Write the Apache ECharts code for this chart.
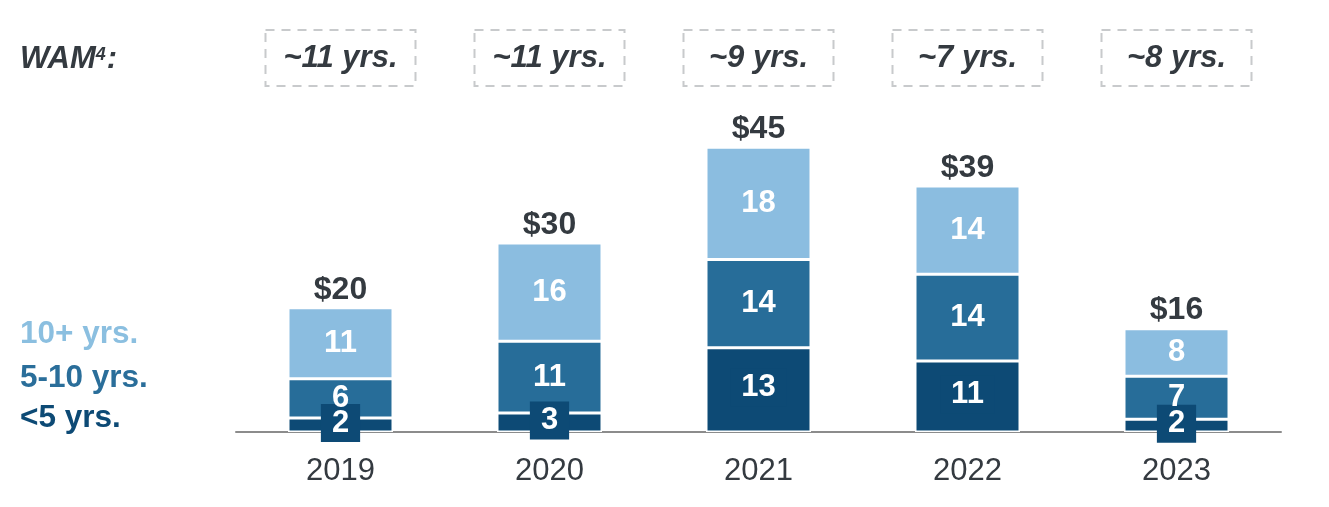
<!DOCTYPE html>
<html>
<head>
<meta charset="utf-8">
<script src="https://cdn.jsdelivr.net/npm/echarts@6/dist/echarts.min.js"></script>
<style>
  html, body { margin: 0; padding: 0; background: #fff; }
  #chart { width: 1329px; height: 507px; }
</style>
</head>
<body>
<div id="chart"></div>
<script>
var years = ['2019', '2020', '2021', '2022', '2023'];
var under5 = [2.2, 3.0, 13.3, 11.2, 2.0];
var fiveTo10 = [6.2, 11.3, 13.9, 13.7, 6.8];
var over10 = [11.2, 15.5, 17.7, 13.9, 7.5];
var totals = [20, 30, 45, 39, 16];
var wam = ['~11 yrs.', '~11 yrs.', '~9 yrs.', '~7 yrs.', '~8 yrs.'];

var FONT = '"Liberation Sans", Arial, sans-serif';
var DARK = '#0d4a75', MID = '#276d99', LIGHT = '#8bbde0', TXT = '#343a40';

// 基于准备好的dom，初始化echarts实例
var myChart = echarts.init(document.getElementById('chart'));

var segLabel = {
    show: true,
    position: 'inside',
    color: '#fff',
    fontFamily: FONT,
    fontWeight: 'bold',
    fontSize: 31,
    formatter: function (p) { return Math.round(p.value); }
};

var option = {
    animation: false,
    textStyle: { fontFamily: FONT },
    grid: { left: 236, right: 48, top: 115, bottom: 75 },
    xAxis: [{
        type: 'category',
        data: years,
        axisTick: { show: false },
        axisLine: { lineStyle: { color: '#8c8c8c', width: 2 } },
        axisLabel: { color: TXT, fontSize: 31, fontFamily: FONT, margin: 24 }
    }, {
        type: 'category',
        position: 'top',
        data: wam,
        axisTick: { show: false },
        axisLine: { show: false },
        axisLabel: {
            color: TXT,
            fontSize: 31,
            fontFamily: FONT,
            fontWeight: 'bold',
            fontStyle: 'italic',
            margin: 29,
            width: 150,
            lineHeight: 34,
            padding: [11, 0],
            borderColor: '#c8cacc',
            borderWidth: 2,
            borderType: [9, 7]
        }
    }],
    yAxis: { type: 'value', min: 0, max: 50, show: false, splitLine: { show: false } },
    series: [{
        name: '<5 yrs.',
        type: 'bar',
        stack: 'a',
        barWidth: 105,
        data: under5,
        itemStyle: { color: DARK, borderColor: '#fff', borderWidth: 1.5 },
        label: Object.assign({}, segLabel, {
            backgroundColor: DARK,
            padding: [4, 11],
            lineHeight: 30,
            offset: [0, -2]
        })
    }, {
        name: '5-10 yrs.',
        type: 'bar',
        stack: 'a',
        data: fiveTo10,
        itemStyle: { color: MID, borderColor: '#fff', borderWidth: 1.5 },
        label: segLabel
    }, {
        name: '10+ yrs.',
        type: 'bar',
        stack: 'a',
        data: over10,
        itemStyle: { color: LIGHT, borderColor: '#fff', borderWidth: 1.5 },
        label: segLabel
    }, {
        name: 'total',
        type: 'bar',
        stack: 'a',
        data: totals.map(function () { return 0; }),
        itemStyle: { color: 'transparent', borderWidth: 0 },
        label: {
            show: true,
            position: 'top',
            distance: 2,
            color: TXT,
            fontFamily: FONT,
            fontWeight: 'bold',
            fontSize: 32,
            formatter: function (p) { return '$' + totals[p.dataIndex]; }
        }
    }],
    graphic: [{
        type: 'text', left: 20, top: 44,
        style: {
            text: '{a|WAM}{s|4}{a|:}',
            rich: {
                a: { fontFamily: FONT, fontSize: 31, fontWeight: 'bold', fontStyle: 'italic', fill: TXT, lineHeight: 34 },
                s: { fontFamily: FONT, fontSize: 18, fontWeight: 'bold', fontStyle: 'italic', fill: TXT, lineHeight: 34, padding: [0, 1, 9, 0] }
            }
        }
    }, {
        type: 'text', left: 20, top: 318,
        style: { text: '10+ yrs.', fill: '#8bbfe0', font: 'bold 31.5px ' + FONT }
    }, {
        type: 'text', left: 20, top: 362,
        style: { text: '5-10 yrs.', fill: '#2a6e9a', font: 'bold 31.5px ' + FONT }
    }, {
        type: 'text', left: 20, top: 402,
        style: { text: '<5 yrs.', fill: DARK, font: 'bold 31.5px ' + FONT }
    }]
};

// 使用刚指定的配置项和数据显示图表。
myChart.setOption(option);
</script>
</body>
</html>
